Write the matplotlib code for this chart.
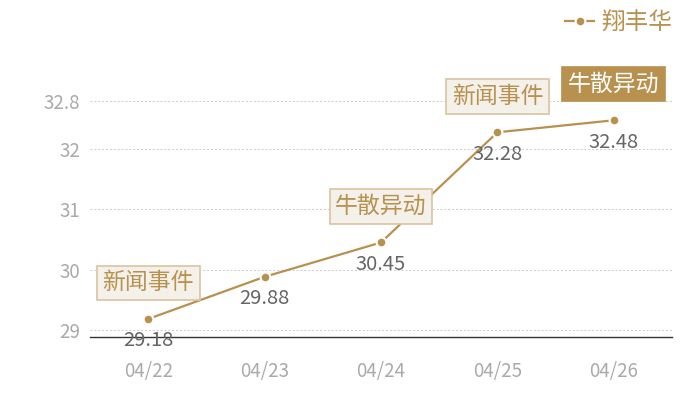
import matplotlib.pyplot as plt
from matplotlib.lines import Line2D

plt.rcParams['font.family'] = ['Noto Sans CJK SC', 'DejaVu Sans']

dates = ['04/22', '04/23', '04/24', '04/25', '04/26']
prices = [29.18, 29.88, 30.45, 32.28, 32.48]
events = ['新闻事件', None, '牛散异动', '新闻事件', '牛散异动']
highlight = [False, False, False, False, True]
yticks = [29, 30, 31, 32, 32.8]
series_name = '翔丰华'

gold = '#b8914f'
box_fill = '#f4f0ea'
box_edge = '#d9c4a0'

fig = plt.figure(figsize=(7, 4), dpi=100)
ax = fig.add_axes([0.1286, 0.1575, 0.8314, 0.59])

x = list(range(len(dates)))
ax.plot(x, prices, color=gold, lw=1.6, marker='o', ms=7,
        mfc=gold, mec='white', mew=1.5, zorder=3)

for i, v in enumerate(prices):
    ax.annotate('%.2f' % v, (i, v), xytext=(0, -22), textcoords='offset pixels',
                ha='center', va='center', fontsize=14.5, color='#666666', zorder=4)
    if events[i]:
        if highlight[i]:
            fc, ec, tc = gold, gold, 'white'
        else:
            fc, ec, tc = box_fill, box_edge, gold
        ax.annotate(events[i], (i, v), xytext=(0, 36), textcoords='offset pixels',
                    ha='center', va='center', fontsize=16.5, color=tc, zorder=5,
                    bbox=dict(boxstyle='square,pad=0.25', fc=fc, ec=ec, lw=1.2))

ax.set_xlim(-0.5, 4.5)
ax.set_ylim(28.88, 32.8)
ax.set_xticks(x)
ax.set_xticklabels(dates)
ax.set_yticks(yticks)
ax.set_yticklabels(['29', '30', '31', '32', '32.8'])
ax.tick_params(length=0, colors='#aaaaaa', labelsize=13.5)
ax.tick_params(axis='x', pad=17)
ax.tick_params(axis='y', pad=7)
ax.grid(axis='y', ls=(0, (2, 2)), color='#cccccc', lw=0.7)
ax.set_axisbelow(True)
for s in ['top', 'right', 'left']:
    ax.spines[s].set_visible(False)
ax.spines['bottom'].set_color('#333333')
ax.spines['bottom'].set_linewidth(1)

handle = Line2D([0], [0], color=gold, lw=1.6, marker='o', ms=7,
                mfc=gold, mec='white', mew=1.5)
leg = fig.legend([handle], [series_name], loc='upper right',
                 bbox_to_anchor=(0.99, 1.025), frameon=False,
                 fontsize=17, handlelength=1.2, handletextpad=0.3)
for t in leg.get_texts():
    t.set_color(gold)

fig.savefig('out.png', dpi=100)
